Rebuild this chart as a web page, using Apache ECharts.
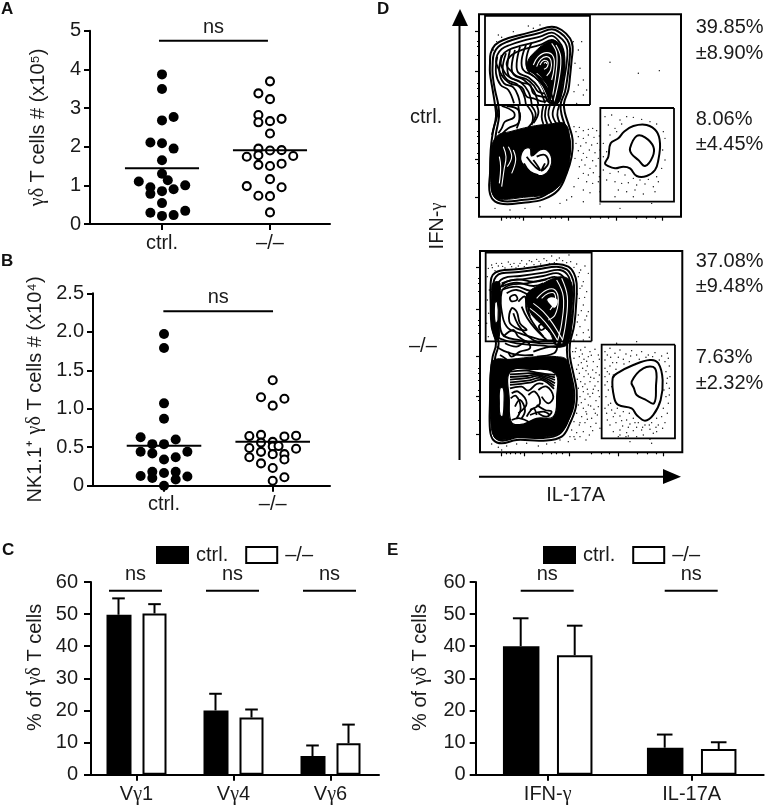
<!DOCTYPE html>
<html><head><meta charset="utf-8"><style>html,body{margin:0;padding:0;background:#fff}#c{width:765px;height:806px}</style>
<script src="https://cdn.jsdelivr.net/npm/echarts@6/dist/echarts.min.js"></script></head><body><div id="c"></div>
<script>
// ---- Panel A: [swarm slot, value]
const aCtrl=[[0,3.87],[0,3.49],[0,2.68],[1,2.77],[-1,2.11],[0,2.09],[1,1.95],[0,1.65],[0,1.30],[0.5,1.13],[-2,1.10],[-1,0.95],[2,1.0],[1,0.90],[0,0.85],[-1,0.78],[0,0.54],[-1,0.29],[0,0.21],[1,0.23],[2,0.34]];
const aKo=[[0,3.69],[-1,3.38],[0,3.23],[-1,2.82],[-1,2.63],[0,2.66],[1,2.72],[0,2.34],[-1,1.95],[0,1.90],[1,1.91],[-2,1.74],[-1,1.78],[2,1.76],[-1,1.53],[0,1.50],[1,1.56],[0,1.16],[-2,0.98],[1,0.95],[-1,0.73],[0,0.72],[0,0.30]];
const aMeans=[1.44,1.91];
// ---- Panel B
const bCtrl=[[0,1.97],[0,1.79],[0,1.07],[0,0.87],[-2,0.63],[1,0.60],[-1,0.54],[0,0.54],[-2,0.44],[-1,0.42],[2,0.44],[1,0.37],[0,0.34],[-1,0.18],[0,0.165],[1,0.18],[-2,0.125],[2,0.12],[-1,0.10],[1,0.08],[0,0.0]];
const bKo=[[0,1.37],[-1,1.15],[1,1.13],[0,1.04],[-2,0.645],[-1,0.66],[1,0.64],[2,0.65],[0,0.57],[-1,0.56],[0,0.51],[0.5,0.515],[-2,0.49],[2,0.48],[-1,0.44],[0,0.41],[1,0.41],[-2,0.37],[1,0.34],[-1,0.29],[0,0.23],[1,0.11],[0,0.065]];
const bMeans=[0.52,0.57];
// ---- Panel C
const cCats=['V{g|γ}1','V{g|γ}4','V{g|γ}6'];
const cCtrl=[49.8,20,5.8], cCtrlTop=[54.9,25.2,9.1];
const cKo=[50.2,17.8,9.8], cKoTop=[53.1,20.3,15.6];
// ---- Panel E
const eCats=['IFN-{g|γ}','IL-17A'];
const eCtrl=[40,8.4], eCtrlTop=[48.7,12.5];
const eKo=[37.2,8], eKoTop=[46.4,10.1];
// ---- Panel D, top plot: readings in flow-plot channel units
const tOuter=[
 [[360,190],[362,160],[375,135],[400,120],[450,105],[500,92],[545,80],[575,90],[600,115],[608,140],[605,180],[600,230],[595,270],[582,310],[585,340],[598,380],[608,420],[605,470],[590,520],[565,570],[520,598],[460,608],[400,612],[370,600],[358,570],[360,520],[362,450],[368,400],[378,350],[375,315],[368,270],[360,220]],
 [[368,190],[372,160],[385,140],[410,126],[455,112],[505,100],[545,88],[570,98],[592,120],[600,145],[598,185],[592,235],[585,275],[572,312],[575,345],[588,385],[600,425],[597,470],[582,515],[558,560],[515,590],[455,600],[402,604],[376,592],[366,565],[368,520],[372,450],[378,400],[387,350],[385,315],[375,270],[368,225]]];
const tBlack=[[[365,440],[385,405],[420,395],[480,380],[540,372],[585,372],[600,420],[600,470],[590,520],[560,565],[520,585],[460,592],[400,598],[372,590],[362,540]],
 [[470,195],[490,160],[545,122],[575,140],[585,190],[578,250],[565,308],[535,308],[520,270],[498,235],[478,220]]];
const tHoles=[[[462,448],[480,445],[485,468],[510,450],[530,450],[545,475],[540,505],[520,525],[490,522],[465,500],[452,478]]];
const tWhite=[[[490,195],[505,170],[530,158],[550,170],[552,205],[545,240]],[[500,200],[512,178],[530,170],[543,182],[542,210],[530,228]],[[510,195],[520,182],[533,185],[532,200],[522,208]],[[522,190],[528,187],[530,192]],[[480,215],[505,240],[525,275],[540,305]],[[558,135],[572,170],[568,230],[552,305]],[[500,220],[520,240],[535,262]],[[545,130],[560,160],[558,220],[545,300]],
 [[400,440],[408,470],[402,510],[395,560]],[[415,440],[425,470],[412,500]],[[430,450],[437,480],[425,520]],[[388,470],[392,500],[388,550]]];
const tLines=[
 [[378,185],[382,165],[395,147],[420,135],[460,122],[510,110],[545,98],[565,108],[585,128],[592,150],[590,190],[582,240],[575,280],[560,312],[540,300],[520,305],[490,295],[470,290],[455,262],[420,250],[405,238],[395,225],[385,205]],
 [[392,190],[398,165],[415,150],[450,138],[510,122],[545,108],[565,122],[580,150],[580,195],[572,240],[565,285],[540,290],[515,290],[490,280],[480,255],[455,248],[425,235],[410,225],[400,210]],
 [[410,195],[420,170],[450,152],[510,135],[545,120],[565,135],[570,160],[570,200],[562,240],[555,275],[530,280],[505,275],[490,255],[470,238],[440,228],[425,215]]
];
const tStrands=[
 [[382,170],[378,220],[392,255],[415,270],[432,310]],[[395,165],[388,215],[402,250],[430,262],[445,290],[450,315]],[[408,160],[398,210],[412,240],[440,252],[460,280],[468,315]],[[420,150],[412,205],[420,232],[450,245],[475,275],[485,312]],[[435,150],[425,200],[432,225],[462,240],[490,270],[505,312]],[[450,140],[440,190],[445,218],[475,232],[505,262],[525,310]],[[468,135],[455,180],[460,210],[490,228],[520,258],[540,310]],[[485,128],[470,170],[472,205],[500,225],[530,250],[552,310]],
 [[378,315],[382,345],[372,380],[366,405]],[[395,318],[430,335],[432,352],[405,365],[395,385],[385,400]],[[410,318],[445,330],[446,368],[415,385],[398,400]],[[445,318],[448,360],[440,385]],[[470,315],[488,345],[485,375]],[[482,315],[497,345],[475,382]],[[500,315],[505,340],[490,370]],[[520,315],[515,350],[520,372]],[[530,315],[525,348],[532,372]],[[540,315],[535,345],[545,372]],[[555,315],[548,345],[560,372]],[[568,315],[562,345],[572,375]],
 [[470,470],[495,500],[510,510],[490,480]],[[500,470],[525,465],[535,490],[515,512],[525,490]],[[462,490],[480,515],[505,525]]
];
const tGate=[[[660,315],[660,48],[345,48],[345,315]],[[912,324],[912,605],[691,605],[691,324]]];
const tSide=[
 [[705,490],[715,470],[722,430],[745,415],[762,395],[790,378],[830,375],[860,395],[870,430],[865,480],[855,510],[830,528],[800,528],[780,505],[760,500],[735,505],[712,497]],
 [[780,445],[800,408],[825,412],[850,440],[848,470],[825,498],[805,480],[785,462]]];
const tDots=[[612,380],[618,395],[628,382],[640,392],[655,388],[668,385],[680,392],[625,410],[640,415],[655,405],[672,412],[688,408],[618,430],[632,438],[648,428],[665,435],[682,430],[625,452],[640,460],[658,450],[675,458],[690,450],[615,475],[635,480],[650,472],[668,482],[685,475],[628,500],[645,495],[660,505],[678,498],[640,520],[655,525],[670,518],[688,530],[625,535],[650,545],[668,550],[685,545],[612,560],[640,570],[660,578],[690,575],[605,590],[640,605],[690,612],[705,350],[725,345],[750,360],[770,350],[790,352],[815,358],[840,365],[860,372],[715,375],[735,385],[755,372],[720,405],[740,395],[700,430],[710,455],[700,470],[880,395],[885,415],[878,450],[885,480],[875,505],[700,510],[720,520],[745,515],[765,525],[790,535],[810,540],[835,538],[860,530],[710,540],[735,545],[755,550],[775,548],[800,555],[825,552],[850,560],[865,545],[745,570],[770,575],[795,570],[820,582],[855,575],[735,590],[790,590],[750,625],[845,610],[475,78],[490,85],[510,75],[430,95],[395,112],[380,125],[610,125],[625,150],[635,125],[615,190],[630,205],[640,240],[625,255],[612,275],[640,285],[650,270],[620,310],[720,187],[805,220],[868,212],[370,150],[375,625],[420,630],[465,625],[510,620],[590,600],[570,610],[385,105]];
const tXMajor=[393,460,595,740,877], tXMinor=[408,420,435,448,515,540,555,575,660,690,715,800,830,855];
const tYMajor=[93,215,358,478,593], tYMinor=[125,140,165,250,265,290,395,410,430,460,490,550];
// ---- Panel D, bottom plot
const bOuter=[
 [[362,130],[368,105],[390,92],[440,88],[500,80],[560,72],[595,80],[612,100],[620,130],[618,200],[612,260],[600,310],[600,350],[610,400],[620,450],[618,500],[600,550],[575,590],[520,602],[440,600],[395,610],[370,600],[360,570],[360,480],[362,400],[368,350],[378,310],[365,260],[362,190]],
 [[370,130],[378,110],[395,100],[445,96],[505,88],[560,80],[590,88],[604,106],[612,135],[610,200],[604,260],[592,310],[592,350],[602,400],[612,450],[610,500],[592,545],[568,582],[520,594],[442,592],[398,602],[376,592],[368,565],[368,480],[370,400],[376,350],[386,310],[373,260],[370,190]]];
const bBlack=[[[362,390],[372,360],[420,358],[500,350],[560,350],[590,360],[605,420],[610,480],[600,530],[575,575],[530,590],[440,592],[395,600],[372,590],[362,540],[360,460]],
 [[366,135],[378,125],[390,130],[388,290],[378,300],[366,260]],
 [[470,165],[520,130],[575,110],[605,130],[605,220],[595,310],[560,318],[540,280],[510,250],[480,215]]];
const bHoles=[[[420,395],[480,388],[555,400],[560,470],[550,530],[500,535],[460,552],[425,548],[418,480]],
 [[390,445],[400,445],[402,490],[398,530],[390,525],[388,490]],
 [[374,190],[382,185],[384,240],[376,250]],
 [[530,178],[545,170],[565,180],[555,205],[540,195]]];
const bWhite=[[[500,175],[530,150],[555,150],[565,180],[555,225],[535,240]],[[515,175],[535,160],[553,160],[555,185],[540,210]],[[480,205],[510,230],[540,265],[565,305]],[[490,190],[520,215],[548,250],[578,300]],[[560,120],[580,170],[575,250],[560,310]],[[575,115],[592,170],[587,250],[575,310]]];
const bLines=[
 [[380,140],[400,115],[450,108],[520,98],[570,90],[596,110],[602,150],[598,220],[592,280],[578,318],[510,316],[440,310],[402,300],[382,288],[376,200]],
 [[388,150],[410,125],[455,118],[520,108],[565,100],[588,125],[594,170],[588,240],[578,300],[520,310],[445,300],[405,290],[392,270],[386,200]],
 [[395,155],[420,135],[470,130],[525,118],[560,112],[580,140],[584,190],[576,250],[565,295],[520,300],[480,290],[450,280],[415,265],[398,230]],
 [[420,172],[435,165],[442,178],[425,184]],[[507,258],[518,252],[524,263],[512,270]],
 [[425,205],[440,215],[450,250],[470,270],[440,265],[418,245]]
];
const bStrands=[
 [[395,130],[440,118],[490,125],[530,118]],[[395,140],[440,128],[490,138],[520,130]],[[395,150],[440,140],[480,152],[505,145]],[[410,160],[440,150],[475,165],[490,175],[475,200],[480,230]],[[445,185],[465,170],[470,210],[490,250],[520,290]],[[455,200],[472,235],[495,265],[530,300]],[[430,220],[445,255],[475,290],[510,310]],[[400,290],[430,270],[445,290],[480,310]],
 [[405,310],[440,320],[470,305],[480,325],[450,335],[425,350],[415,335]],[[490,335],[530,322],[560,320],[552,340],[500,350]],[[390,345],[415,365],[395,372]],[[380,320],[400,332],[445,345],[490,345]],
 [[420,395],[470,392],[500,398],[555,405]],[[420,403],[470,400],[497,400],[555,412]],[[420,411],[472,408],[500,404],[555,420]],[[420,419],[475,414],[505,408],[555,430]],[[420,427],[478,421],[510,414],[553,438]],[[420,435],[480,428],[515,420],[552,447]],
 [[420,445],[455,440],[475,452],[500,432],[520,432]],[[425,460],[445,455],[470,490],[445,520]],[[435,500],[450,480],[465,510],[455,535]],[[475,465],[495,455],[510,490],[480,510]],[[422,475],[438,468],[452,505],[440,535]],
 [[505,450],[530,440],[550,470],[535,490],[515,470]],[[500,495],[525,510],[545,515],[530,530],[505,520]],[[425,540],[450,535],[480,548]],[[480,525],[520,515],[540,525]],[[470,530],[490,505],[500,525]]
];
const bGate=[[[665,304],[665,38],[347,38],[347,304]],[[915,314],[915,595],[695,595],[695,314]]];
const bSide=[
 [[728,415],[745,398],[790,375],[840,360],[865,370],[878,420],[872,480],[850,525],[825,542],[800,525],[785,505],[745,495],[733,475]],
 [[785,425],[820,385],[855,385],[858,440],[852,490],[825,478],[800,465],[792,445]]];
const bDots=[[355,85],[365,75],[375,92],[385,78],[395,70],[405,84],[415,66],[425,80],[432,70],[445,78],[455,62],[470,72],[485,65],[500,58],[512,72],[530,62],[545,48],[560,60],[578,62],[597,45],[602,65],[620,72],[632,90],[645,78],[625,110],[640,125],[655,100],[630,145],[650,155],[628,175],[640,195],[655,215],[625,225],[645,240],[630,260],[655,270],[620,285],[640,300],[612,300],[352,110],[358,150],[352,180],[356,220],[350,250],[355,290],[608,335],[618,325],[632,330],[645,322],[660,335],[675,328],[685,345],[612,355],[628,350],[642,358],[655,350],[670,365],[688,358],[625,375],[638,385],[652,378],[668,390],[682,380],[628,400],[642,410],[655,402],[672,415],[688,405],[632,425],[645,432],[660,425],[675,438],[625,445],[640,455],[652,448],[668,460],[685,452],[630,470],[645,478],[660,470],[678,482],[688,470],[625,495],[640,505],[655,495],[672,508],[685,500],[620,520],[635,530],[650,522],[665,535],[682,525],[612,545],[628,555],[645,548],[662,560],[678,550],[690,565],[605,570],[620,578],[640,575],[658,585],[600,590],[615,598],[595,605],[705,335],[720,325],[735,340],[750,330],[768,342],[785,332],[800,345],[815,335],[835,345],[855,338],[875,348],[892,340],[705,360],[722,352],[740,368],[760,358],[778,365],[885,365],[898,378],[705,385],[720,378],[738,388],[888,395],[900,410],[705,410],[718,402],[890,430],[882,450],[898,445],[705,435],[715,450],[708,470],[722,490],[705,505],[888,470],[895,490],[880,505],[892,520],[710,520],[725,510],[742,505],[760,515],[778,520],[712,540],[730,530],[750,528],[770,540],[790,535],[805,548],[860,535],[875,530],[885,548],[720,555],[738,548],[758,558],[780,552],[800,562],[825,555],[845,548],[865,555],[730,575],[750,570],[770,578],[790,572],[815,570],[840,568],[860,575],[745,590],[775,588],[800,590],[740,310],[800,305],[845,610],[780,605],[840,598],[365,612],[385,622],[410,618],[440,612],[470,610],[505,618],[530,612],[555,608],[395,630],[570,600],
 [367,83],[379,70],[398,79],[421,73],[438,84],[450,70],[463,80],[478,62],[492,74],[507,64],[522,56],[538,70],[553,68],[568,54],[590,68],[612,82],[628,98],[618,122],[636,138],[622,162],[644,172],[618,200],[634,212],[650,228],[622,246],[640,278],[658,292],[616,335],[637,342],[650,364],[664,346],[620,388],[634,368],[648,392],[662,412],[678,398],[622,418],[638,440],[654,462],[670,448],[684,425],[634,488],[648,515],[662,498],[676,520],[630,548],[652,538],[668,572],[612,590],[630,590],[648,600],[712,345],[728,368],[745,352],[762,372],[782,348],[808,358],[828,352],[848,350],[868,360],[895,355],[712,395],[730,405],[892,415],[712,425],[725,440],[898,465],[715,495],[735,520],[755,542],[775,562],[795,548],[818,562],[838,555],[858,562],[878,565],[750,585],[768,590],[820,585],[850,580]];
const bXMajor=[395,462,598,745,880], bXMinor=[410,422,437,450,518,543,558,578,663,693,718,803,833,858];
const bYMajor=[83,207,349,468,582], bYMinor=[115,130,155,240,255,280,385,400,420,450,480,540];

const INK='#1a1a1a', SANS='"Liberation Sans",Arial,sans-serif', SERIF='"Liberation Serif",serif', FS=20;
const rich={g:{fontFamily:SERIF,fontSize:FS,fill:INK,color:INK},t:{fontFamily:SANS,fontSize:FS,color:INK}};
const grids=[],xAxes=[],yAxes=[],series=[],graphic=[];

function T(text,x,y,o){graphic.push(Object.assign({type:'text',x,y,z:100,style:Object.assign({text,fill:INK,font:FS+'px '+SANS,textAlign:'left',textVerticalAlign:'middle'},o||{})}));}
function baseY(max,interval,fmt,name,nameGap,pad,margin,tick){return {type:'value',min:0,max,interval,name,nameLocation:'middle',nameGap,nameRotate:90,
 nameTextStyle:{fontFamily:SANS,fontSize:FS,color:INK,padding:pad||0,rich},
 splitLine:{show:false},axisLine:{show:true,onZero:false,lineStyle:{color:'#000',width:2}},axisTick:{show:true,length:tick,lineStyle:{color:'#000',width:2}},
 axisLabel:{color:INK,fontFamily:SANS,fontSize:FS,margin,formatter:fmt,showMinLabel:true,showMaxLabel:true}};}

function swarm(left,top,w,h,xmin,xmax,ymax,yint,fmt,name,gap,ctrl,ko,means,nsV,nsMin,nsMax,slot){
 grids.push({left,top,width:w,height:h});
 const xi=xAxes.length;
 xAxes.push({gridIndex:grids.length-1,type:'value',min:xmin,max:xmax,splitLine:{show:false},
  axisLine:{show:true,onZero:false,lineStyle:{color:'#000',width:2}},
  axisTick:{show:true,customValues:[1,2],length:6,lineStyle:{color:'#000',width:2}},
  axisLabel:{customValues:[1,2],color:INK,fontFamily:SANS,fontSize:FS,margin:9,formatter:v=>v===1?'ctrl.':'–/–'}});
 yAxes.push(Object.assign(baseY(ymax,yint,fmt,name,gap,0,9,6),{gridIndex:grids.length-1}));
 const ax={xAxisIndex:xi,yAxisIndex:xi};
 series.push(Object.assign({type:'scatter',name:'ctrl. cells',clip:false,symbolSize:10,itemStyle:{color:'#000',opacity:1},data:ctrl.map(p=>[1+p[0]*slot,p[1]]),z:3},ax));
 series.push(Object.assign({type:'scatter',name:'–/– cells',clip:false,symbolSize:8,itemStyle:{color:'#fff',borderColor:'#000',borderWidth:2.1,opacity:1},data:ko.map(p=>[2+p[0]*slot,p[1]]),z:3},ax));
 means.forEach((m,i)=>series.push(Object.assign({type:'line',symbol:'none',silent:true,lineStyle:{color:'#000',width:2},data:[[1+i-0.343,m],[1+i+0.343,m]],z:4},ax)));
 series.push(Object.assign({type:'line',symbol:'none',lineStyle:{color:'#000',width:2},data:[[nsMin,nsV],[nsMax,nsV]],z:4},ax));
 series.push(Object.assign({type:'scatter',symbolSize:1,itemStyle:{color:'rgba(0,0,0,0)',opacity:1},label:{show:true,position:'top',distance:3,formatter:'ns',color:INK,fontFamily:SANS,fontSize:FS},data:[[(nsMin+nsMax)/2,nsV]],clip:false,z:5},ax));
}
swarm(90,30.7,240,193.3,1/3,2.5556,5,1,v=>String(v),'{g|γδ}{t| T cells # (x10⁵)}',42,aCtrl,aKo,aMeans,4.74,0.972,1.981,0.1075);
swarm(93,293.3,237,192.4,0.3468,2.527,2.5,0.5,v=>v===0?'0':v.toFixed(1),'{t|NK1.1⁺ }{g|γδ}{t| T cells # (x10⁴)}',48,bCtrl,bKo,bMeans,2.266,0.994,2.003,0.1075);

function bars(left,width,cats,ctrl,ko,ctrlTop,koTop,barW,off,capW,nsHalf,nsDx,yo){
 grids.push({left,top:582,width,height:192.7});
 const gi=grids.length-1, xi=xAxes.length;
 xAxes.push({gridIndex:gi,type:'category',data:cats,axisLine:{show:true,onZero:false,lineStyle:{color:'#000',width:2}},
  axisTick:{show:true,alignWithLabel:true,length:6,lineStyle:{color:'#000',width:2}},
  axisLabel:{color:INK,fontFamily:SANS,fontSize:FS,margin:10,interval:0,rich}});
 yAxes.push(Object.assign(baseY(60,10,v=>String(v),'{g|}{t|% of }{g|γδ}{t| T cells}',yo.gap,yo.pad,yo.margin,yo.tick),{gridIndex:gi,offset:yo.off}));
 const ax={xAxisIndex:xi,yAxisIndex:xi};
 const gapPct=Math.round((2*off-barW)/barW*100)+'%';
 series.push(Object.assign({type:'bar',name:'ctrl.',barWidth:barW,barGap:gapPct,itemStyle:{color:'#000',borderColor:'#000',borderWidth:2},data:ctrl},ax));
 series.push(Object.assign({type:'bar',name:'–/–',barWidth:barW-1,barGap:gapPct,itemStyle:{color:'#fff',borderColor:'#000',borderWidth:2},data:ko},ax));
 const err=(vals,tops,dx)=>series.push(Object.assign({type:'custom',silent:true,z:1,data:vals.map((v,i)=>[i,v,tops[i]]),renderItem:(p,api)=>{
   const a=api.coord([api.value(0),api.value(1)]),b=api.coord([api.value(0),api.value(2)]);const x=a[0]+dx;const st={stroke:'#000',lineWidth:2};
   return {type:'group',children:[{type:'line',shape:{x1:x,y1:a[1],x2:x,y2:b[1]},style:st},{type:'line',shape:{x1:x-capW,y1:b[1],x2:x+capW,y2:b[1]},style:st}]};}},ax));
 err(ctrl,ctrlTop,-off); err(ko,koTop,off);
 series.push(Object.assign({type:'custom',silent:true,data:cats.map((c,i)=>[i,57.3]),renderItem:(p,api)=>{
   const a=api.coord([api.value(0),api.value(1)]);const x=a[0]+nsDx;
   return {type:'group',children:[{type:'line',shape:{x1:x-nsHalf,y1:a[1],x2:x+nsHalf,y2:a[1]},style:{stroke:'#000',lineWidth:2}},
    {type:'text',style:{text:'ns',x,y:a[1]-16.5,align:'center',verticalAlign:'middle',fill:INK,font:FS+'px '+SANS}}]};}},ax));
}
bars(88,291,cCats,cCtrl,cKo,cCtrlTop,cKoTop,25,18,6.3,26.5,-1,{off:-3,gap:46,pad:[0,0,0,22],margin:13,tick:7});
bars(475.7,288,eCats,eCtrl,eKo,eCtrlTop,eKoTop,36.5,27,7.8,26.5,-0.5,{off:0,gap:45,pad:[0,0,0,22],margin:10,tick:6});

// flow plots
function flow(left,top,w,h,x0,x1,y0,y1,xMaj,xMin,yMaj,yMin,black,holes,outer,lines,strands,whites,gates,side,dots){
 grids.push({left,top,width:w,height:h,show:true,borderColor:'#000',borderWidth:2,backgroundColor:'#fff'});
 const gi=grids.length-1,xi=xAxes.length;
 const tick=(vals,len)=>({show:true,customValues:vals,length:len,lineStyle:{color:'#000',width:1.2}});
 xAxes.push({gridIndex:gi,type:'value',min:x0,max:x1,splitLine:{show:false},axisLine:{show:false},axisLabel:{show:false},axisTick:tick(xMaj,4)});
 xAxes.push({gridIndex:gi,type:'value',min:x0,max:x1,position:'bottom',splitLine:{show:false},axisLine:{show:false},axisLabel:{show:false},axisTick:tick(xMin,2)});
 yAxes.push({gridIndex:gi,type:'value',min:y0,max:y1,inverse:true,splitLine:{show:false},axisLine:{show:false},axisLabel:{show:false},axisTick:tick(yMaj,4)});
 yAxes.push({gridIndex:gi,type:'value',min:y0,max:y1,inverse:true,position:'left',splitLine:{show:false},axisLine:{show:false},axisLabel:{show:false},axisTick:tick(yMin,2)});
 const ax={xAxisIndex:xi,yAxisIndex:xi};
 series.push(Object.assign({type:'scatter',silent:true,symbolSize:1.4,itemStyle:{color:'#111',opacity:1},data:dots,z:2},ax));
 const layer=(list,style,smooth,closed,z)=>series.push(Object.assign({type:'custom',silent:true,z,data:list.map((c,i)=>[c[0][0],c[0][1],i]),renderItem:(p,api)=>{
   const pts=list[p.dataIndex].map(q=>api.coord(q));
   return {type:closed?'polygon':'polyline',shape:{points:pts,smooth},style:Object.assign({},style,closed?{}:{fill:null})};}},ax));
 layer(outer,{fill:'none',stroke:'#000',lineWidth:2},0.4,true,3);
 layer(lines,{fill:'none',stroke:'#000',lineWidth:1.8},0.4,true,3);
 layer(black,{fill:'#000',stroke:'#000',lineWidth:1},0.4,true,4);
 layer(holes,{fill:'#fff',stroke:'#000',lineWidth:1.2},0.4,true,5);
 layer(whites,{stroke:'#fff',lineWidth:1.1},0.4,false,6);
 layer(strands,{stroke:'#000',lineWidth:1.8},0.4,false,6);
 layer(side,{fill:'none',stroke:'#000',lineWidth:2},0.4,true,6);
 layer(gates.map(g=>g.concat([g[0]])),{stroke:'#000',lineWidth:1.8},0,false,7);
}
flow(479,14.3,202,202.4,327,933,43,650,tXMajor,tXMinor,tYMajor,tYMinor,tBlack,tHoles,tOuter,tLines,tStrands,tWhite,tGate,tSide,tDots);
flow(480,251,202.3,201.3,330,937,33,637,bXMajor,bXMinor,bYMajor,bYMinor,bBlack,bHoles,bOuter,bLines,bStrands,bWhite,bGate,bSide,bDots);

// letters & annotations
const bold={font:'bold 17px '+SANS,fill:'#111'};
T('A',1,9,bold);T('B',1,261,bold);T('C',2,550.5,bold);T('D',377,9,bold);T('E',387,550.5,bold);
[['39.85%',27],['±8.90%',53],['8.06%',119],['±4.45%',144.7],['37.08%',261.7],['±9.48%',286.7],['7.63%',357.7],['±2.32%',383.3]].forEach(a=>T(a[0],695.7,a[1]));
T('ctrl.',410,117);T('–/–',409,346);
T('IL-17A',575.7,495,{textAlign:'center'});
graphic.push({type:'text',x:437,y:226,rotation:Math.PI/2,z:100,style:{text:'{t|IFN-}{g|γ}',rich:{g:{fontFamily:SERIF,fontSize:18,fill:INK},t:{fontFamily:SANS,fontSize:FS,fill:INK}},fill:INK,font:FS+'px '+SANS,textAlign:'center',textVerticalAlign:'middle'}});
const lineS={stroke:'#000',lineWidth:2};
graphic.push({type:'line',shape:{x1:459.5,y1:22,x2:459.5,y2:460},style:lineS},{type:'polygon',shape:{points:[[460,9],[452,26],[468,26]]},style:{fill:'#000'}},
 {type:'line',shape:{x1:479,y1:476.7,x2:668,y2:476.7},style:lineS},{type:'polygon',shape:{points:[[681,476.7],[663,469],[663,484]]},style:{fill:'#000'}});

const legend=(left,gap)=>({left,top:545,icon:'rect',itemWidth:31,itemHeight:16,itemGap:gap,selectedMode:false,padding:0,data:['ctrl.','–/–'],textStyle:{color:INK,fontFamily:SANS,fontSize:FS,padding:[0,0,0,3]}});
const chart=echarts.init(document.getElementById('c'),null,{renderer:'canvas'});
chart.setOption({animation:false,backgroundColor:'#fff',textStyle:{fontFamily:SANS},grid:grids,xAxis:xAxes,yAxis:yAxes,series,graphic:{elements:graphic},legend:[legend(156,17),legend(543,17)]});
</script></body></html>
